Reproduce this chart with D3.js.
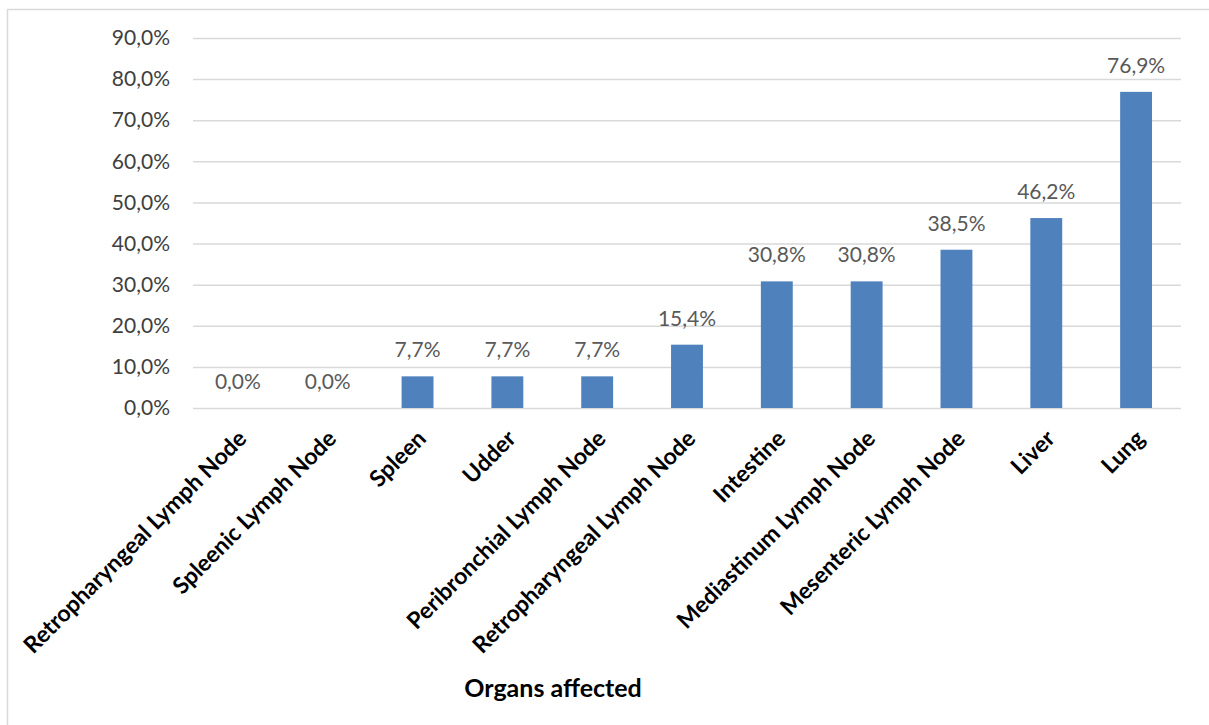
<!DOCTYPE html>
<html>
<head>
<meta charset="utf-8">
<script src="https://cdn.jsdelivr.net/npm/d3@7"></script>
<style>
  html, body { margin: 0; padding: 0; background: #fff; }
  svg { display: block; }
</style>
</head>
<body>
<svg id="chart" width="1209" height="725"></svg>
<script>
// Share of cases with lesions, by organ
const categories = [
  "Retropharyngeal Lymph Node",
  "Spleenic Lymph Node",
  "Spleen",
  "Udder",
  "Peribronchial Lymph Node",
  "Retropharyngeal Lymph Node ",
  "Intestine",
  "Mediastinum  Lymph Node",
  "Mesenteric Lymph Node",
  "Liver",
  "Lung"
];
const values = [0.0, 0.0, 7.7, 7.7, 7.7, 15.4, 30.8, 30.8, 38.5, 46.2, 76.9];
const yTicks = [0, 10, 20, 30, 40, 50, 60, 70, 80, 90];
const xTitle = "Organs affected";

const fmt = v => v.toFixed(1).replace(".", ",") + "%";

const svg = d3.select("#chart");
const W = 1209, H = 725;
const m = { left: 193, right: W - 1181, top: 38, bottom: H - 408 };
const FONT = "Lato, 'Open Sans', sans-serif";

// outer chart frame
svg.append("rect")
  .attr("x", 7.5).attr("y", 9.5)
  .attr("width", 1206).attr("height", 730)
  .attr("fill", "none").attr("stroke", "#d9d9d9").attr("stroke-width", 1.5);

const x = d3.scaleBand()
  .domain(categories)
  .range([m.left, W - m.right])
  .paddingInner(0.645).paddingOuter(0.3225);

const y = d3.scaleLinear()
  .domain([0, 90])
  .range([H - m.bottom, m.top]);

// horizontal gridlines + y tick labels
const yAxis = d3.axisLeft(y)
  .tickValues(yTicks)
  .tickSize(-(W - m.left - m.right))
  .tickPadding(23)
  .tickFormat(fmt);

const gy = svg.append("g")
  .attr("transform", `translate(${m.left},0)`)
  .call(yAxis);
gy.select(".domain").remove();
gy.selectAll(".tick line")
  .attr("stroke", "#d9d9d9").attr("stroke-width", 1.5);
gy.selectAll(".tick text")
  .attr("font-family", FONT)
  .attr("font-size", 21)
  .attr("fill", "#404040");

// bars
svg.append("g").selectAll("rect")
  .data(values)
  .join("rect")
  .attr("x", (d, i) => x(categories[i]))
  .attr("width", x.bandwidth())
  .attr("y", d => y(d))
  .attr("height", d => y(0) - y(d))
  .attr("fill", "#4f81bd");

// value labels above bars
svg.append("g").selectAll("text")
  .data(values)
  .join("text")
  .attr("x", (d, i) => x(categories[i]) + x.bandwidth() / 2)
  .attr("y", d => y(d) - 19)
  .attr("text-anchor", "middle")
  .attr("font-family", FONT)
  .attr("font-size", 21)
  .attr("fill", "#595959")
  .text(d => fmt(d));

// category labels, rotated
const gx = svg.append("g")
  .attr("transform", `translate(0,${y(0)})`)
  .call(d3.axisBottom(x).tickSize(0).tickFormat(d => d.trim()));
gx.select(".domain").remove();
gx.selectAll(".tick text")
  .attr("font-family", FONT)
  .attr("font-weight", "bold")
  .attr("font-size", 23)
  .attr("fill", "#000")
  .attr("text-anchor", "end")
  .attr("dy", null)
  .attr("y", 0)
  .attr("transform", "translate(10,32) rotate(-45)");

// x-axis title
svg.append("text")
  .attr("x", 553).attr("y", 697)
  .attr("text-anchor", "middle")
  .attr("font-family", FONT)
  .attr("font-weight", "bold")
  .attr("font-size", 25)
  .attr("fill", "#000")
  .text(xTitle);
</script>
</body>
</html>
